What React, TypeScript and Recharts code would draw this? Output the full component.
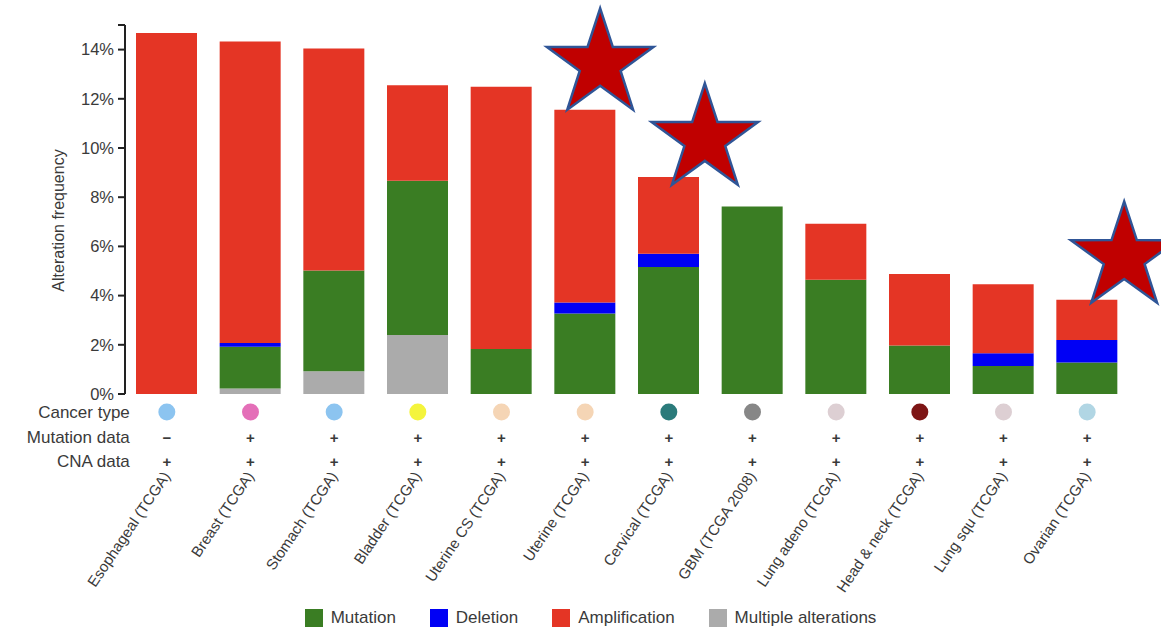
import React from "react";
import {
  BarChart,
  Bar,
  XAxis,
  YAxis,
  Legend,
  ReferenceDot,
} from "recharts";

// Study names along the x axis
const categories = [
  "Esophageal (TCGA)",
  "Breast (TCGA)",
  "Stomach (TCGA)",
  "Bladder (TCGA)",
  "Uterine CS (TCGA)",
  "Uterine (TCGA)",
  "Cervical (TCGA)",
  "GBM (TCGA 2008)",
  "Lung adeno (TCGA)",
  "Head & neck (TCGA)",
  "Lung squ (TCGA)",
  "Ovarian (TCGA)",
];

// Alteration frequencies in percent, stacked bottom to top
const multiple = [0, 0.22, 0.92, 2.4, 0, 0, 0, 0, 0, 0, 0, 0];
const mutation = [0, 1.7, 4.1, 6.27, 1.83, 3.27, 5.16, 7.62, 4.64, 1.97, 1.14, 1.28];
const deletion = [0, 0.15, 0, 0, 0, 0.45, 0.54, 0, 0, 0, 0.52, 0.92];
const amplification = [14.67, 12.26, 9.02, 3.88, 10.66, 7.83, 3.12, 0, 2.28, 2.91, 2.8, 1.63];

// Annotation rows under the bars
const cancerTypeColors = [
  "#8cc4f0",
  "#e46fb8",
  "#8cc4f0",
  "#f4f43c",
  "#f5d5b5",
  "#f5d5b5",
  "#2b7b7b",
  "#878787",
  "#ddcfd3",
  "#7d1515",
  "#ddcfd3",
  "#b1d6e4",
];
const mutationData = ["−", "+", "+", "+", "+", "+", "+", "+", "+", "+", "+", "+"];
const cnaData = ["+", "+", "+", "+", "+", "+", "+", "+", "+", "+", "+", "+"];

const yTicks = [0, 2, 4, 6, 8, 10, 12, 14, 15];

// Highlighted studies (star markers)
const starred = [
  { name: "Uterine (TCGA)", level: 13.4 },
  { name: "Cervical (TCGA)", level: 10.35 },
  { name: "Ovarian (TCGA)", level: 5.55 },
];
const starShift = [15, 36, 37];

const COLORS = {
  mutation: "#3a7d23",
  deletion: "#0000f5",
  amplification: "#e43525",
  multiple: "#ababab",
};

const FONT = '"Liberation Sans", Arial, sans-serif';
const TEXT = "#3a3a3a";

const data = categories.map((name, i) => ({
  name,
  multiple: multiple[i],
  mutation: mutation[i],
  deletion: deletion[i],
  amplification: amplification[i],
  typeColor: cancerTypeColors[i],
  mut: mutationData[i],
  cna: cnaData[i],
}));

function starPoints(cx: number, cy: number, outer: number, inner: number) {
  const pts: string[] = [];
  for (let k = 0; k < 10; k++) {
    const r = k % 2 === 0 ? outer : inner;
    const a = -Math.PI / 2 + (k * Math.PI) / 5;
    pts.push(`${cx + r * Math.cos(a)},${cy + r * Math.sin(a)}`);
  }
  return pts.join(" ");
}

const Star = (dx: number) => (props: any) => {
  const { cx, cy } = props;
  if (cx == null || cy == null) return <g />;
  return (
    <polygon
      points={starPoints(cx + dx, cy, 56, 21.5)}
      fill="#c00000"
      stroke="#2f5597"
      strokeWidth={2.5}
      strokeLinejoin="miter"
    />
  );
};

const CategoryTick = (props: any) => {
  const { x, y, payload, index } = props;
  const row = data[index];
  return (
    <g fontFamily={FONT} fill={TEXT}>
      {index === 0 && (
        <g fontSize={17} textAnchor="end">
          <text x={x - 37} y={y + 24}>Cancer type</text>
          <text x={x - 37} y={y + 49}>Mutation data</text>
          <text x={x - 37} y={y + 73}>CNA data</text>
        </g>
      )}
      <circle cx={x} cy={y + 18} r={8.5} fill={row.typeColor} />
      <text x={x} y={y + 49} textAnchor="middle" fontSize={15} fontWeight="bold">
        {row.mut}
      </text>
      <text x={x} y={y + 73} textAnchor="middle" fontSize={15} fontWeight="bold">
        {row.cna}
      </text>
      <text
        x={x + 4}
        y={y + 82}
        textAnchor="end"
        fontSize={15}
        transform={`rotate(-56 ${x + 4} ${y + 82})`}
      >
        {payload.value}
      </text>
    </g>
  );
};

const legendItems = [
  { label: "Mutation", color: COLORS.mutation },
  { label: "Deletion", color: COLORS.deletion },
  { label: "Amplification", color: COLORS.amplification },
  { label: "Multiple alterations", color: COLORS.multiple },
];

const LegendContent = () => (
  <div
    style={{
      display: "flex",
      justifyContent: "center",
      alignItems: "center",
      height: 20,
      fontFamily: FONT,
      fontSize: 17,
      color: TEXT,
      paddingLeft: 54,
    }}
  >
    {legendItems.map((item) => (
      <div
        key={item.label}
        style={{ display: "flex", alignItems: "center", marginRight: 34 }}
      >
        <span
          style={{
            width: 18,
            height: 18,
            background: item.color,
            marginRight: 8,
            display: "inline-block",
          }}
        />
        {item.label}
      </div>
    ))}
  </div>
);

const AxisTitle = (props: any) => {
  const vb = props.viewBox || {};
  const x = vb.x + vb.width - 67;
  const y = vb.y + vb.height / 2 + 11;
  return (
    <text
      x={x}
      y={y}
      transform={`rotate(-90 ${x} ${y})`}
      textAnchor="middle"
      dominantBaseline="central"
      fontFamily={FONT}
      fontSize={16}
      fill={TEXT}
    >
      Alteration frequency
    </text>
  );
};

export default function App() {
  return (
    <div style={{ position: "absolute", left: 0, top: 0, background: "#fff" }}>
      <BarChart
        width={1161}
        height={630}
        data={data}
        margin={{ top: 25, right: 32, bottom: 0, left: 0 }}
      >
        <XAxis
          dataKey="name"
          axisLine={false}
          tickLine={false}
          tickSize={0}
          tickMargin={0}
          height={216}
          interval={0}
          tick={<CategoryTick />}
        />
        <YAxis
          width={125}
          domain={[0, 15]}
          ticks={yTicks}
          interval={0}
          allowDataOverflow
          tickFormatter={(v: number) => (v === 15 ? "" : `${v}%`)}
          tick={{ fill: TEXT, fontSize: 16.5, fontFamily: FONT }}
          tickSize={7}
          tickMargin={4}
          axisLine={{ stroke: "#222", strokeWidth: 2 }}
          tickLine={{ stroke: "#222", strokeWidth: 2 }}
          label={<AxisTitle />}
        />
        <Legend
          verticalAlign="bottom"
          content={<LegendContent />}
          wrapperStyle={{ left: 0, width: 1161, bottom: 2 }}
        />
        <Bar dataKey="multiple" stackId="a" fill={COLORS.multiple} barSize={61} isAnimationActive={false} />
        <Bar dataKey="mutation" stackId="a" fill={COLORS.mutation} barSize={61} isAnimationActive={false} />
        <Bar dataKey="deletion" stackId="a" fill={COLORS.deletion} barSize={61} isAnimationActive={false} />
        <Bar dataKey="amplification" stackId="a" fill={COLORS.amplification} barSize={61} isAnimationActive={false} />
        {starred.map((s, i) => (
          <ReferenceDot
            key={s.name}
            x={s.name}
            y={s.level}
            ifOverflow="visible"
            shape={Star(starShift[i])}
          />
        ))}
      </BarChart>
    </div>
  );
}
